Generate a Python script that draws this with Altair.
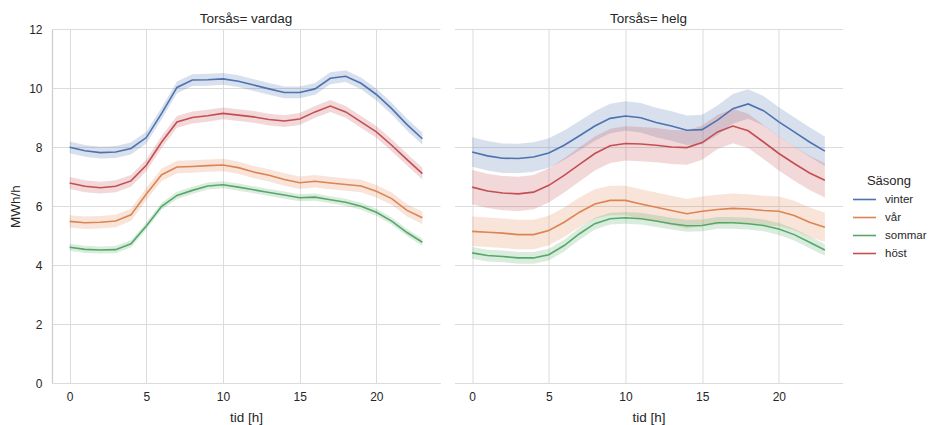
import altair as alt
import pandas as pd

hours = list(range(24))
seasons = ["vinter", "vår", "sommar", "höst"]
colors = ["#4c72b0", "#dd8452", "#55a868", "#c44e52"]
daytypes = ["vardag", "helg"]

# vardag (weekday) mean MWh/h per hour
vardag_vinter = [7.99, 7.87, 7.81, 7.83, 7.95, 8.32, 9.14, 10.02, 10.27, 10.28, 10.31, 10.23,
                 10.10, 9.97, 9.85, 9.85, 9.97, 10.33, 10.40, 10.16, 9.78, 9.30, 8.76, 8.28]
vardag_var = [5.48, 5.43, 5.45, 5.49, 5.70, 6.41, 7.06, 7.32, 7.34, 7.37, 7.39, 7.30,
              7.15, 7.04, 6.90, 6.79, 6.84, 6.78, 6.73, 6.68, 6.50, 6.25, 5.85, 5.60]
vardag_sommar = [4.60, 4.53, 4.51, 4.52, 4.72, 5.32, 5.99, 6.36, 6.53, 6.68, 6.72, 6.64,
                 6.55, 6.46, 6.37, 6.28, 6.30, 6.21, 6.13, 5.99, 5.79, 5.49, 5.10, 4.77]
vardag_host = [6.78, 6.67, 6.62, 6.67, 6.85, 7.38, 8.17, 8.85, 9.00, 9.06, 9.14, 9.08,
               9.02, 8.93, 8.88, 8.95, 9.19, 9.39, 9.19, 8.85, 8.51, 8.06, 7.57, 7.10]

# helg (weekend) mean MWh/h per hour
helg_vinter = [7.83, 7.70, 7.62, 7.61, 7.66, 7.80, 8.06, 8.38, 8.71, 8.97, 9.05, 8.99,
               8.83, 8.71, 8.57, 8.59, 8.91, 9.30, 9.46, 9.23, 8.85, 8.51, 8.17, 7.86]
helg_var = [5.14, 5.11, 5.08, 5.03, 5.03, 5.17, 5.45, 5.79, 6.07, 6.19, 6.19, 6.07,
            5.96, 5.85, 5.74, 5.82, 5.88, 5.92, 5.90, 5.85, 5.82, 5.68, 5.45, 5.28]
helg_sommar = [4.41, 4.32, 4.29, 4.24, 4.24, 4.35, 4.66, 5.06, 5.40, 5.57, 5.60, 5.57,
               5.49, 5.40, 5.33, 5.34, 5.43, 5.43, 5.40, 5.34, 5.22, 5.03, 4.77, 4.51]
helg_host = [6.64, 6.51, 6.44, 6.41, 6.47, 6.70, 7.04, 7.41, 7.78, 8.04, 8.12, 8.10,
             8.06, 8.00, 7.98, 8.15, 8.51, 8.71, 8.55, 8.17, 7.78, 7.44, 7.12, 6.87]

# half-width of the 95% confidence band
vardag_ci = {"vinter": 0.20, "vår": 0.21, "sommar": 0.12, "höst": 0.20}
helg_ci = {"vinter": 0.50, "vår": 0.50, "sommar": 0.20, "höst": 0.58}

series = {
    ("vardag", "vinter"): vardag_vinter, ("vardag", "vår"): vardag_var,
    ("vardag", "sommar"): vardag_sommar, ("vardag", "höst"): vardag_host,
    ("helg", "vinter"): helg_vinter, ("helg", "vår"): helg_var,
    ("helg", "sommar"): helg_sommar, ("helg", "höst"): helg_host,
}
cis = {"vardag": vardag_ci, "helg": helg_ci}

rows = []
for (d, s), vals in series.items():
    for h, v in zip(hours, vals):
        hw = cis[d][s]
        rows.append({"Torsås": d, "Säsong": s, "tid": h, "val": v, "lo": v - hw, "hi": v + hw})
df = pd.DataFrame(rows)

FONT = "Liberation Sans"
color = alt.Color("Säsong:N", scale=alt.Scale(domain=seasons, range=colors), sort=seasons,
                  legend=alt.Legend(title="Säsong", orient="none", legendX=800, legendY=146,
                                    symbolType="stroke", symbolSize=529, symbolStrokeWidth=1.6,
                                    symbolOpacity=1, titleAnchor="middle",
                                    labelFontSize=11.5, titleFontSize=13, titleFontWeight="normal",
                                    rowPadding=-3.5, titlePadding=-1, labelOffset=8,
                                    labelColor="#262626", titleColor="#262626",
                                    labelFont=FONT, titleFont=FONT))

x = alt.X("tid:Q", title="tid [h]",
          scale=alt.Scale(domain=[-1.15, 24.15], nice=False, zero=False),
          axis=alt.Axis(values=[0, 5, 10, 15, 20], format="d"))
y_axis = alt.Axis(values=[0, 2, 4, 6, 8, 10, 12])
y = alt.Y("val:Q", title="MWh/h", scale=alt.Scale(domain=[0, 12], nice=False), axis=y_axis)

band = alt.Chart().mark_area(opacity=0.22).encode(
    x=x, y=alt.Y("lo:Q", title="MWh/h", scale=alt.Scale(domain=[0, 12], nice=False), axis=y_axis),
    y2="hi:Q", color=color, detail="Säsong:N")
line = alt.Chart().mark_line(strokeWidth=1.6).encode(x=x, y=y, color=color)

chart = alt.layer(band, line, data=df).properties(width=388, height=354).facet(
    column=alt.Column("Torsås:N", sort=daytypes,
                      header=alt.Header(title=None, labelExpr="'Torsås= ' + datum.value",
                                        labelFontSize=13.5, labelColor="#262626", labelFont=FONT,
                                        labelPadding=4)),
    spacing=14.5,
).resolve_scale(y="shared").configure_view(stroke=None).configure_axis(
    grid=True, gridColor="#dcdcdc", gridWidth=1, domainColor="#cccccc", domainWidth=1.2,
    ticks=False, tickSize=0, labelFontSize=12, titleFontSize=13.5, titleFontWeight="normal",
    labelColor="#262626", titleColor="#262626", labelFont=FONT, titleFont=FONT,
).configure_axisX(labelPadding=8, titlePadding=8).configure_axisY(labelPadding=10, titlePadding=6
).properties(padding={"left": 0, "top": 3, "right": 0, "bottom": 3})

chart.save("out.html", embed_options={"renderer": "svg", "actions": False})
